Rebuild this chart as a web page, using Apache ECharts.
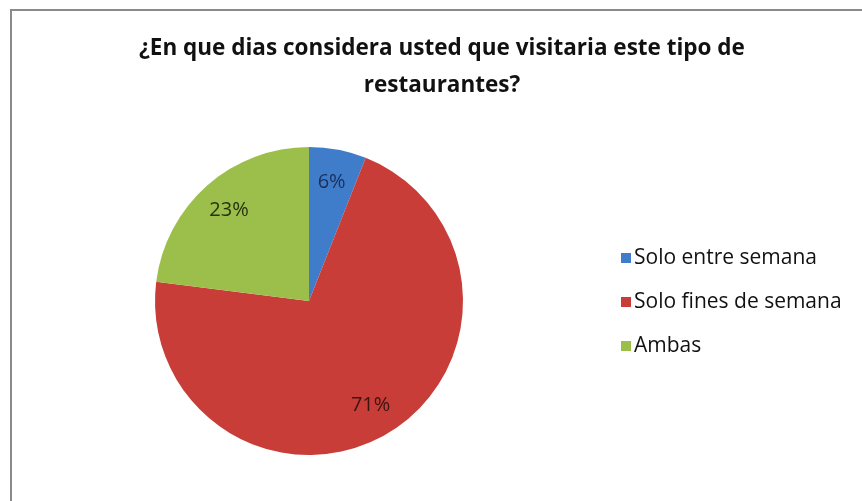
<!DOCTYPE html>
<html>
<head>
<meta charset="utf-8">
<script src="https://cdn.jsdelivr.net/npm/echarts@6/dist/echarts.min.js"></script>
<style>
  html, body { margin: 0; padding: 0; background: #fff; }
  #frame { position: absolute; left: 10px; top: 9px; width: 852px; height: 492px;
           border-left: 2px solid #8a8a8a; border-top: 2px solid #8a8a8a; box-sizing: border-box; }
  #chart { position: absolute; left: 0; top: 0; width: 862px; height: 501px; }
</style>
</head>
<body>
<div id="frame"></div>
<div id="chart"></div>
<script>
// Survey answers: which days would people visit this kind of restaurant
const categories = ['Solo entre semana', 'Solo fines de semana', 'Ambas'];
const shares = [6, 71, 23];
const sliceColors = ['#3f7dca', '#c83d38', '#9cbf4b'];
const labelColors = ['#1c2f5a', '#3b1412', '#25330f'];

const chart = echarts.init(document.getElementById('chart'), null, { renderer: 'canvas' });

const center = [309, 301];
const radius = 154;

const pieData = categories.map((name, i) => ({
  name,
  value: shares[i],
  itemStyle: { color: sliceColors[i] }
}));

// Label-only ring: its mid-radius sets where the percentages sit inside the slices
const labelData = categories.map((name, i) => ({
  name,
  value: shares[i],
  itemStyle: { color: 'rgba(0,0,0,0)' },
  label: { color: labelColors[i] }
}));

chart.setOption({
  animation: false,
  backgroundColor: 'transparent',
  title: {
    text: '¿En que dias considera usted que visitaria este tipo de\nrestaurantes?',
    left: 437,
    top: 25,
    textAlign: 'center',
    textStyle: {
      fontFamily: 'Open Sans',
      fontWeight: 'bold',
      fontSize: 22.5,
      lineHeight: 37,
      color: '#111'
    }
  },
  legend: {
    orient: 'vertical',
    left: 616,
    top: 242,
    itemWidth: 10,
    itemHeight: 10,
    itemGap: 22,
    icon: 'rect',
    data: categories.map((name, i) => ({ name, itemStyle: { color: sliceColors[i] } })),
    textStyle: { fontFamily: 'Open Sans', fontSize: 21, lineHeight: 22, color: '#111', padding: [0, 0, 0, -2] }
  },
  series: [
    {
      type: 'pie',
      center,
      radius: [0, radius],
      startAngle: 90,
      clockwise: true,
      label: { show: false },
      labelLine: { show: false },
      emphasis: { disabled: true },
      itemStyle: { borderWidth: 0 },
      data: pieData
    },
    {
      type: 'pie',
      center,
      radius: [82, radius],
      startAngle: 90,
      clockwise: true,
      silent: true,
      legendHoverLink: false,
      label: {
        show: true,
        position: 'inside',
        formatter: '{c}%',
        fontFamily: 'Open Sans',
        fontSize: 20
      },
      labelLine: { show: false },
      emphasis: { disabled: true },
      data: labelData
    }
  ]
});
</script>
</body>
</html>
